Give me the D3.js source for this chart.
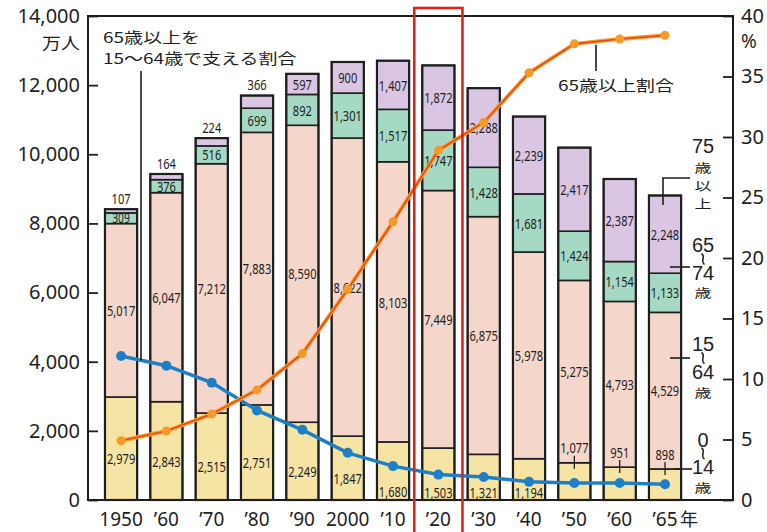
<!DOCTYPE html>
<html><head><meta charset="utf-8">
<script src="https://cdn.jsdelivr.net/npm/d3@7"></script>
<style>body{margin:0;background:#fff}</style>
</head><body><svg id="c" width="767" height="532"></svg>
<script>
// ---- data (万人 / %) ----
const years = [1950,1960,1970,1980,1990,2000,2010,2020,2030,2040,2050,2060,2065];
const yearLabels = ["1950","’60","’70","’80","’90","2000","’10","’20","’30","’40","’50","’60","’65"];
const age0_14  = [2979,2843,2515,2751,2249,1847,1680,1503,1321,1194,1077,951,898];
const age15_64 = [5017,6047,7212,7883,8590,8622,8103,7449,6875,5978,5275,4793,4529];
const age65_74 = [309,376,516,699,892,1301,1517,1747,1428,1681,1424,1154,1133];
const age75    = [107,164,224,366,597,900,1407,1872,2288,2239,2417,2387,2248];
const share65  = [4.9,5.7,7.1,9.1,12.1,17.4,23.0,28.9,31.2,35.3,37.7,38.1,38.4];
const support  = [11.9,11.1,9.7,7.4,5.8,3.9,2.8,2.1,1.9,1.5,1.4,1.4,1.3];
const leftTicks = [0,2000,4000,6000,8000,10000,12000,14000];
const rightTicks = [0,5,10,15,20,25,30,35,40];

const svg = d3.select('#c');
const L=88, R=733, T=16, B=500;
const NUM = '"Noto Sans", "Open Sans", sans-serif';
const JP = '"Noto Sans CJK JP", "Noto Sans", sans-serif';
const INK = '#1e1e1e';

const x = d3.scaleBand().domain(years).range([98.4,687.7]).paddingInner(0.29).paddingOuter(0.145);
const bw = x.bandwidth();
const cx = d => x(d) + bw/2;
const yL = d3.scaleLinear().domain([0,14000]).range([B,T]);
const yR = d3.scaleLinear().domain([0,40]).range([B,T]);

const keys = ['a','b','c','d'];
const colors = {a:'#f5e4a4', b:'#f4d6ca', c:'#a6d9c3', d:'#dac6e3'};
const rows = years.map((yr,i)=>({year:yr, a:age0_14[i], b:age15_64[i], c:age65_74[i], d:age75[i]}));
const stack = d3.stack().keys(keys)(rows);

// bars
const gBars = svg.append('g');
stack.forEach(layer=>{
  gBars.selectAll(null).data(layer).enter().append('rect')
    .attr('x', d=>x(d.data.year)).attr('width', bw)
    .attr('y', d=>yL(d[1])).attr('height', d=>yL(d[0])-yL(d[1]))
    .attr('fill', colors[layer.key]).attr('stroke', INK).attr('stroke-width',1.6);
});
gBars.selectAll(null).data(rows).enter().append('rect')
  .attr('x', d=>x(d.year)).attr('width', bw)
  .attr('y', d=>yL(d.a+d.b+d.c+d.d)).attr('height', d=>B-yL(d.a+d.b+d.c+d.d))
  .attr('fill','none').attr('stroke',INK).attr('stroke-width',2.2);

// condensed bar labels
const gLab = svg.append('g').attr('font-family',NUM).attr('fill',INK);
const fmt = d3.format(',');
function cLabel(xp, yp, v, fs){
  gLab.append('text').attr('transform',`translate(${xp},${yp}) scale(0.74,1)`)
    .attr('font-size', fs || 15)
    .attr('text-anchor','middle').attr('dominant-baseline','central').text(fmt(v));
}
rows.forEach((r,i)=>{
  const c = cx(r.year);
  const v=r.a;
  if (v < 1100) {
    const top = yL(v);
    cLabel(c, top-15, v);
    svg.append('line').attr('x1',c).attr('x2',c).attr('y1',top-7).attr('y2',top+6).attr('stroke',INK).attr('stroke-width',1.3);
  } else {
    let yc = yL(v/2) + (v<1800 ? 20 : 10);
    yc = Math.min(yc, 492);
    cLabel(c, yc, v);
  }
  cLabel(c, yL(r.a + r.b/2), r.b);
  const hc = yL(r.a+r.b) - yL(r.a+r.b+r.c);
  cLabel(c, yL(r.a + r.b + r.c/2), r.c, hc < 12 ? 14 : 15);
  const h = yL(r.a+r.b+r.c) - yL(r.a+r.b+r.c+r.d);
  if (h < 15) cLabel(c, yL(r.a+r.b+r.c+r.d)-11, r.d);
  else cLabel(c, yL(r.a+r.b+r.c+r.d/2), r.d);
});

// frame
svg.append('rect').attr('x',L).attr('y',T).attr('width',R-L).attr('height',B-T)
  .attr('fill','none').attr('stroke',INK).attr('stroke-width',2);

// axes
const axL = svg.append('g').attr('transform',`translate(${L},0)`)
  .call(d3.axisLeft(yL).tickValues(leftTicks).tickSize(-10).tickPadding(8).tickFormat(fmt));
const axR = svg.append('g').attr('transform',`translate(${R},0)`)
  .call(d3.axisRight(yR).tickValues(rightTicks).tickSize(-10).tickPadding(8));
[axL,axR].forEach(a=>{
  a.select('.domain').remove();
  a.selectAll('line').attr('stroke',INK).attr('stroke-width',1.8);
  a.selectAll('text').attr('font-family',NUM).attr('font-size',20).attr('fill',INK);
});
svg.append('text').attr('transform','translate(80,48.5) scale(1,0.85)').attr('text-anchor','end')
  .attr('font-family',JP).attr('font-size',19).attr('fill',INK).text('万人');
svg.append('text').attr('x',741).attr('y',41).attr('dominant-baseline','central')
  .attr('font-family',NUM).attr('font-size',19).attr('fill',INK).text('%');

// x labels
const gX = svg.append('g').attr('font-family',NUM).attr('font-size',19).attr('fill',INK);
years.forEach((yr,i)=>{
  gX.append('text').attr('x',cx(yr)).attr('y',526).attr('text-anchor','middle').text(yearLabels[i]);
});
gX.append('text').attr('x',cx(years[12])+15).attr('y',526)
  .attr('font-family',JP).attr('font-size',18).text('年');

// lines
const line = d3.line().x((d,i)=>cx(years[i])).y(d=>yR(d));
svg.append('path').attr('d',line(support)).attr('fill','none').attr('stroke','#1f7fc6').attr('stroke-width',3.5);
svg.selectAll(null).data(support).enter().append('circle')
  .attr('cx',(d,i)=>cx(years[i])).attr('cy',d=>yR(d)).attr('r',5).attr('fill','#1f7fc6');
svg.append('path').attr('d',line(share65)).attr('fill','none').attr('stroke','#f6a12e').attr('stroke-width',4);
svg.append('path').attr('d',line(share65)).attr('fill','none').attr('stroke','#e8471e').attr('stroke-width',1.6);
svg.selectAll(null).data(share65).enter().append('circle')
  .attr('cx',(d,i)=>cx(years[i])).attr('cy',d=>yR(d)).attr('r',4.5).attr('fill','#f39a2b');

// annotations (glyphs slightly compressed vertically, as in the source)
const ann = svg.append('g').attr('font-family',JP).attr('font-size',19).attr('fill',INK);
ann.append('text').attr('transform','translate(103,43.4) scale(1,0.75)').text('65歳以上を');
ann.append('text').attr('transform','translate(103,64.4) scale(1,0.75)').text('15〜64歳で支える割合');
const lx = 141;
const t0 = (lx-cx(years[0]))/(cx(years[1])-cx(years[0]));
svg.append('line').attr('x1',lx).attr('x2',lx).attr('y1',71)
  .attr('y2',yR(support[0])+(yR(support[1])-yR(support[0]))*t0)
  .attr('stroke',INK).attr('stroke-width',1.6);
ann.append('text').attr('transform','translate(558,90.5) scale(1,0.8)').text('65歳以上割合');
svg.append('line').attr('x1',596).attr('x2',596).attr('y1',yR(share65[10])+1).attr('y2',71).attr('stroke',INK).attr('stroke-width',1.6);

// right vertical legend
const VX = 703;
const gV = svg.append('g').attr('fill',INK);
function num(s, c){
  const fs=20;
  gV.append('text').attr('x',VX).attr('y',c+0.357*fs).attr('text-anchor','middle')
    .attr('font-family','"Liberation Sans", Arial, sans-serif').attr('font-size',fs).text(s);
}
function kan(s, c){
  const fs=17, sy=0.72;
  gV.append('text').attr('transform',`translate(${VX},${c+0.38*fs*sy}) scale(1,${sy})`)
    .attr('text-anchor','middle').attr('font-family',JP).attr('font-size',fs).text(s);
}
function tilde(c){
  gV.append('path').attr('d',`M${VX-1.5},${c-5.5} C${VX+3.5},${c-2.5} ${VX-3.5},${c+2.5} ${VX+1.5},${c+5.5}`)
    .attr('fill','none').attr('stroke',INK).attr('stroke-width',1.5);
}
num('75',146); kan('歳',168); kan('以',186); kan('上',204);
num('65',245); tilde(259); num('74',273); kan('歳',293);
num('15',344); tilde(358); num('64',372); kan('歳',393);
num('0',440); tilde(453.5); num('14',467); kan('歳',488);
const lead = svg.append('g').attr('stroke',INK).attr('stroke-width',1.6).attr('fill','none');
lead.append('path').attr('d','M663,205 V178 H690');
lead.append('path').attr('d','M670,267 H690');
lead.append('path').attr('d','M670,358 H690');
lead.append('path').attr('d','M674,469 H692');

// highlight box around 2020
svg.append('rect').attr('x',x(2020)-8).attr('y',8).attr('width',bw+16).attr('height',540)
  .attr('fill','none').attr('stroke','#e2231a').attr('stroke-width',2.6);
</script></body></html>
